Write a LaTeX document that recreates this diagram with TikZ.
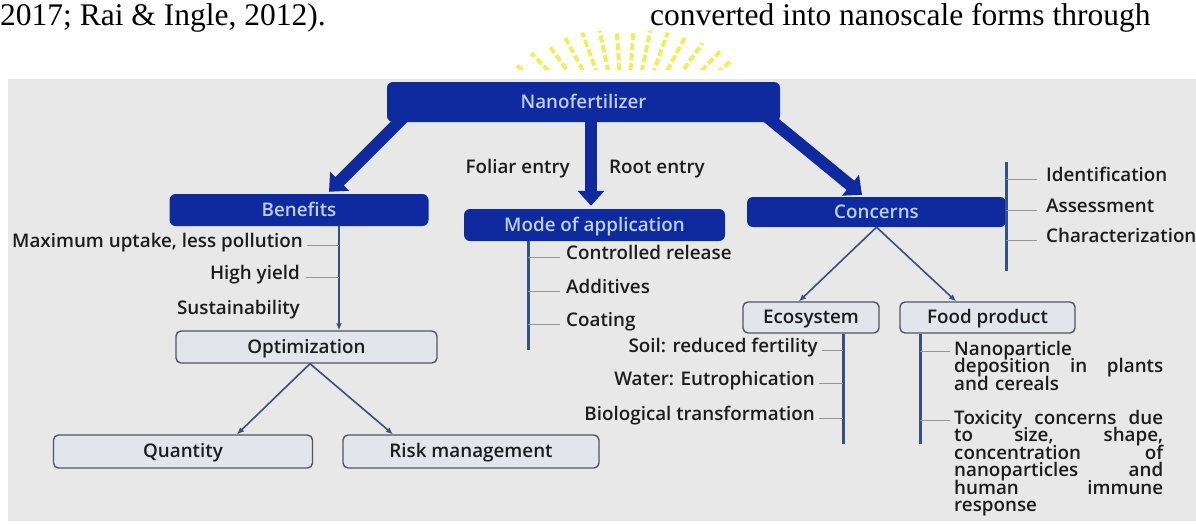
\documentclass[tikz,border=0pt]{standalone}
\usepackage{fontspec}
\IfFontExistsTF{Open Sans SemiBold}{\setmainfont{Open Sans SemiBold}}{%
    \IfFontExistsTF{Open Sans Semibold}{\setmainfont{Open Sans Semibold}}{\setmainfont{Open Sans}}}
\newfontfamily\bodyfont{Liberation Serif}
\usetikzlibrary{arrows.meta,backgrounds}
\definecolor{navybox}{RGB}{14,42,158}
\definecolor{boxtext}{RGB}{190,208,245}
\definecolor{bggray}{RGB}{232,232,232}
\definecolor{lightbox}{RGB}{226,229,236}
\definecolor{boxline}{RGB}{80,86,98}
\definecolor{slate}{RGB}{55,80,125}
\definecolor{tickgray}{RGB}{150,150,150}
\definecolor{ink}{RGB}{28,28,28}
\definecolor{sunyellow}{RGB}{244,236,90}
\newcommand{\justline}[1]{\leavevmode\hbox to 209pt{\spaceskip=0.3em plus 1fil\relax #1}}

\begin{document}
\begin{tikzpicture}[x=1pt,y=-1pt,
    font=\fontsize{18.8}{22}\selectfont,text=ink,
    bluebox/.style={fill=navybox,text=boxtext,rounded corners=6pt,inner sep=0pt,
        minimum height=32pt,text height=14pt,text depth=2pt},
    greybox/.style={fill=lightbox,draw=boxline,line width=1.4pt,rounded corners=5pt,
        inner sep=0pt,minimum height=32pt,text height=14pt,text depth=2pt},
    lbl/.style={inner sep=0pt},
    para/.style={anchor=north west,align=left,inner sep=0pt,text width=209pt,
        font={\fontsize{18.8}{17.5}\selectfont\lineskiplimit=-20pt}},
    bigarrow/.style={navybox,line width=12pt,-{Triangle[length=15pt,width=26pt]}},
    thinarrow/.style={slate,line width=1.6pt,-{Latex[length=7pt,width=6pt]}},
    vline/.style={slate,line width=3pt},
    tickline/.style={tickgray,line width=1pt},
    sunray/.style={sunyellow,line width=4pt,dash pattern=on 7pt off 3pt}]
    \useasboundingbox (0,0) rectangle (1196,523);
    \begin{scope}
        \clip (480,0) rectangle (760,69);
        \foreach \a/\r in {-142/140,-134/135,-126/130,-118/128,-110/125,-102/122,-94/118,
                -86/120,-78/122,-70/125,-62/128,-54/132,-46/138,-40/140}
            \draw[sunray,shift={(625,150)}] (\a:40) -- (\a:\r);
    \end{scope}
    \node[lbl,anchor=base west,text=black,font=\bodyfont\fontsize{31.5}{36}\selectfont] (cite) at (0,25) {2017; Rai \& Ingle, 2012).};
    \node[lbl,anchor=base west,text=black,font=\bodyfont\fontsize{31.5}{36}\selectfont] (prose) at (650,25) {converted into nanoscale forms through};

    \node[bluebox,minimum width=393pt,minimum height=40pt] (nano) at (583.5,102) {Nanofertilizer};
    \node[bluebox,minimum width=259pt] (benefits) at (299,210) {Benefits};
    \node[bluebox,minimum width=261pt] (mode) at (594.5,225) {Mode of application};
    \node[bluebox,minimum width=259pt,minimum height=30pt] (concerns) at (876.5,212) {Concerns};
    \node[greybox,minimum width=261pt] (optim) at (306.5,347) {Optimization};
    \node[greybox,minimum width=259pt,minimum height=33pt] (quantity) at (183,451.5) {Quantity};
    \node[greybox,minimum width=256pt,minimum height=33pt] (risk) at (471,451.5) {Risk management};
    \node[greybox,minimum width=136pt,minimum height=31pt] (eco) at (811,317.5) {Ecosystem};
    \node[greybox,minimum width=175pt,minimum height=31pt] (food) at (987.5,317.5) {Food product};

    \node[lbl,anchor=mid east] (foliar) at (570,171) {Foliar entry};
    \node[lbl,anchor=mid west] (root) at (609,171) {Root entry};
    \node[lbl,anchor=mid east] (maxup) at (303,245) {Maximum uptake, less pollution};
    \node[lbl,anchor=mid east] (yield) at (300,277) {High yield};
    \node[lbl,anchor=mid east] (sustain) at (300,312) {Sustainability};
    \node[lbl,anchor=mid west] (release) at (566,257) {Controlled release};
    \node[lbl,anchor=mid west] (additives) at (566,291) {Additives};
    \node[lbl,anchor=mid west] (coating) at (566,324) {Coating};
    \node[lbl,anchor=mid west] (ident) at (1046,179) {Identification};
    \node[lbl,anchor=mid west] (assess) at (1046,210) {Assessment};
    \node[lbl,anchor=mid west] (charac) at (1046,240) {Characterization};
    \node[lbl,anchor=mid east] (soil) at (818,350) {Soil: reduced fertility};
    \node[lbl,anchor=mid east] (water) at (815,383) {Water: Eutrophication};
    \node[lbl,anchor=mid east] (biotrans) at (815,418) {Biological transformation};
    \node[para] (deposit) at (954,341) {Nanoparticle\\ \justline{deposition in plants}\\ and cereals};
    \node[para] (toxic) at (954,410) {\justline{Toxicity concerns due}\\ \justline{to size, shape,}\\
        \justline{concentration of}\\ \justline{nanoparticles and}\\ \justline{human immune}\\ response};

    \begin{pgfonlayer}{background}
        \fill[bggray] (8,79) rectangle (1196,521);
        \draw[bigarrow] ([xshift=18pt,yshift=6pt]nano.south west) -- ([xshift=30pt,yshift=2pt]benefits.north);
        \draw[bigarrow] ([xshift=7.5pt,yshift=6pt]nano.south) -- ([xshift=-3.5pt,yshift=3pt]mode.north);
        \draw[bigarrow] ([xshift=-14pt,yshift=6pt]nano.south east) -- ([xshift=-14.5pt,yshift=2pt]concerns.north);
    \end{pgfonlayer}

    \coordinate (btop) at ([xshift=40pt]benefits.south);
    \draw[thinarrow] (btop) -- (btop |- optim.north);
    \draw[tickline] ([xshift=4pt]maxup.mid east) -- (maxup.mid east -| btop);
    \draw[tickline] ([xshift=6pt]yield.mid east) -- (yield.mid east -| btop);
    \draw[thinarrow] ([xshift=3.5pt]optim.south) -- ([xshift=54pt]quantity.north);
    \draw[thinarrow] ([xshift=3.5pt]optim.south) -- ([xshift=-78pt]risk.north);

    \coordinate (mtop) at ([xshift=-66.5pt]mode.south);
    \draw[vline] (mtop) -- ++(0,109);
    \foreach \n in {release,additives,coating}
        \draw[tickline] (\n.mid west -| mtop) -- ([xshift=-6pt]\n.mid west);

    \draw[vline] (concerns.east) ++(0,-50) coordinate (ctop) -- ++(0,109);
    \foreach \n in {ident,assess,charac}
        \draw[tickline] (\n.mid west -| ctop) -- ([xshift=-9pt]\n.mid west);
    \draw[thinarrow] (concerns.south) -- ([xshift=-12pt]eco.north);
    \draw[thinarrow] (concerns.south) -- ([xshift=-31.5pt]food.north);

    \coordinate (etop) at ([xshift=32pt]eco.south);
    \draw[vline] (etop) -- ++(0,110);
    \foreach \n in {soil,water,biotrans}
        \draw[tickline] ([xshift=4pt]\n.mid east) -- (\n.mid east -| etop);

    \coordinate (ftop) at ([xshift=-67.5pt]food.south);
    \draw[vline] (ftop) -- ++(0,110);
    \coordinate (dep1) at ([yshift=-10pt]deposit.north west);
    \coordinate (tox1) at ([yshift=-10pt]toxic.north west);
    \draw[tickline] (dep1 -| ftop) -- ([xshift=-4pt]dep1);
    \draw[tickline] (tox1 -| ftop) -- ([xshift=-4pt]tox1);
\end{tikzpicture}
\end{document}
